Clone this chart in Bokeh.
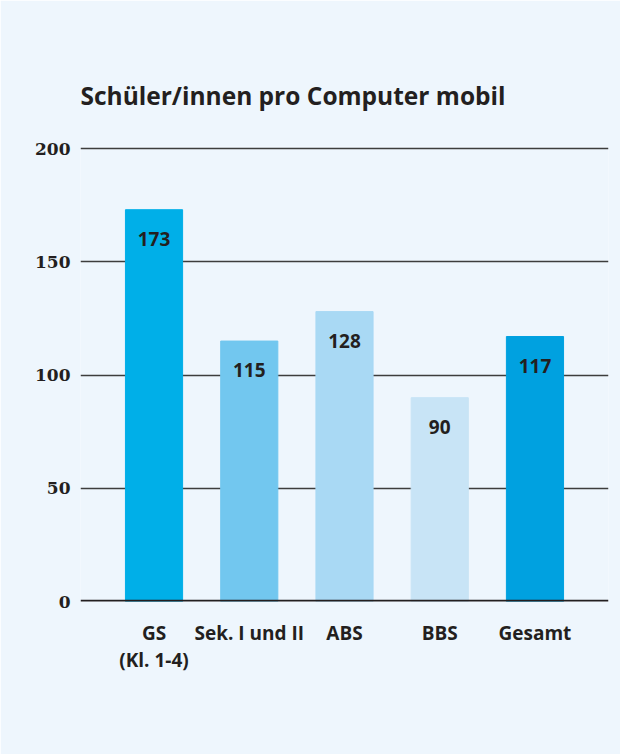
from bokeh.plotting import figure
from bokeh.models import Range1d, FixedTicker, Span, ColumnDataSource, Title, LinearAxis
from bokeh.core.properties import value
from bokeh.embed import file_html
from bokeh.resources import INLINE

categories = ["GS", "Sek. I und II", "ABS", "BBS", "Gesamt"]
subtitles = ["(Kl. 1-4)", "", "", "", ""]
values = [173, 115, 128, 90, 117]
colors = ["#00afe8", "#72c7ef", "#a9d9f4", "#c8e4f6", "#00a1e0"]
y_ticks = [0, 50, 100, 150, 200]

BG = "#eef6fd"
INK = "#231f20"
SANS = "Open Sans"

xs = list(range(len(categories)))
src = ColumnDataSource(dict(x=xs, top=values, color=colors,
                            label=[str(v) for v in values]))

p = figure(width=620, height=754, output_backend="svg", toolbar_location=None,
           x_range=Range1d(-0.772, len(categories) - 1 + 0.772),
           y_range=Range1d(0, 200.9),
           min_border_left=80, min_border_right=12,
           min_border_top=146, min_border_bottom=153)
p.background_fill_color = BG
p.border_fill_color = BG
p.outline_line_color = None

p.title = Title(text="Schüler/innen pro Computer mobil", align="left",
                text_font=SANS, text_font_size="24.5px", text_font_style="bold",
                text_color=INK, standoff=70, offset=0)

p.vbar(x="x", top="top", bottom=0, width=0.6, color="color", source=src)
p.text(x="x", y="top", text="label", source=src, y_offset=29,
       text_align="center", text_baseline="middle",
       text_font=value(SANS), text_font_size="19px", text_font_style="bold",
       text_color=INK)

p.add_layout(Span(location=0, dimension="width", line_color=INK, line_width=3.5,
                  level="overlay"))

p.xgrid.grid_line_color = None
p.ygrid.grid_line_color = "#3d3d3d"
p.ygrid.grid_line_width = 1.4
p.ygrid.ticker = FixedTicker(ticks=y_ticks)

p.yaxis.ticker = FixedTicker(ticks=y_ticks)
p.yaxis.axis_line_color = None
p.yaxis.major_tick_line_color = None
p.yaxis.minor_tick_line_color = None
p.yaxis.major_label_standoff = 4
p.yaxis.major_label_text_font = "DejaVu Serif"
p.yaxis.major_label_text_font_style = "bold"
p.yaxis.major_label_text_font_size = "17px"
p.yaxis.major_label_text_color = INK


def style_x(ax, standoff):
    ax.axis_line_color = None
    ax.major_tick_line_color = None
    ax.minor_tick_line_color = None
    ax.major_label_standoff = standoff
    ax.major_label_text_font = SANS
    ax.major_label_text_font_style = "bold"
    ax.major_label_text_font_size = "19px"
    ax.major_label_text_color = INK


p.xaxis.ticker = FixedTicker(ticks=xs)
p.xaxis.major_label_overrides = {i: c for i, c in zip(xs, categories)}
style_x(p.xaxis[0], 12)

# second line of the category labels
sub_ticks = [i for i, s in zip(xs, subtitles) if s]
ax2 = LinearAxis(ticker=FixedTicker(ticks=sub_ticks),
                 major_label_overrides={i: subtitles[i] for i in sub_ticks})
style_x(ax2, -8)
p.add_layout(ax2, "below")

open("out.html", "w").write(file_html(p, INLINE))
